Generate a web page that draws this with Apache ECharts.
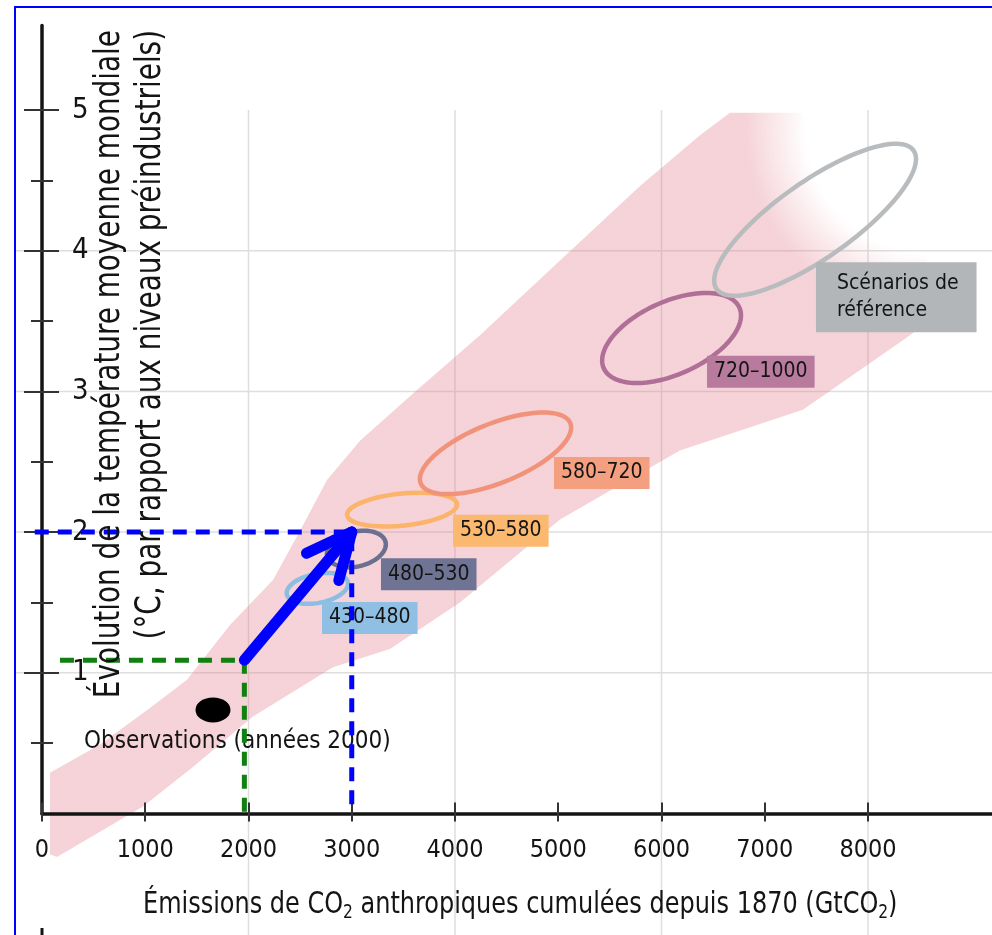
<!DOCTYPE html>
<html>
<head>
<meta charset="utf-8">
<script src="https://cdn.jsdelivr.net/npm/echarts@6/dist/echarts.min.js"></script>
<style>
html,body{margin:0;padding:0;background:#ffffff;}
#chart{width:992px;height:935px;}
</style>
</head>
<body>
<div id="chart"></div>
<script>
// ---------------- data ----------------
const xTicks = [0, 1000, 2000, 3000, 4000, 5000, 6000, 7000, 8000];
const yTicks = [1, 2, 3, 4, 5];
const yMinorTicks = [0.5, 1.5, 2.5, 3.5, 4.5];
const gridX = [2000, 4000, 6000, 8000];
const gridY = [1, 2, 3, 4];

// range of model results (upper edge left->right, lower edge right->left)
const bandUpper = [[77, 0.29], [562, 0.49], [1046, 0.75], [1404, 0.95], [1821, 1.34], [2237, 1.66],
  [2499, 2.01], [2760, 2.37], [3080, 2.65], [3632, 3.01], [4242, 3.40], [5017, 3.93], [5792, 4.46],
  [6373, 4.82], [6663, 4.98], [7341, 4.98], [8310, 4.36], [8746, 3.65]];
const bandLower = [[8649, 3.54], [8407, 3.40], [7370, 2.87], [6179, 2.58], [5017, 2.09], [4048, 1.50],
  [3370, 1.17], [2818, 1.04], [2044, 0.69], [1462, 0.33], [978, 0.05], [145, -0.31], [77, -0.29]];

// scenario ellipses (CO2-eq concentration categories, ppm)
const scenarioNames = ['430–480', '480–530', '530–580', '580–720', '720–1000', 'Scénarios de\nréférence'];
const emissionsLow  = [2370, 2760, 2955, 3660, 5425, 6510];
const emissionsHigh = [2965, 3330, 4020, 5125, 6770, 8465];
const warmingLow    = [1.49, 1.75, 2.04, 2.27, 3.06, 3.68];
const warmingHigh   = [1.71, 2.01, 2.28, 2.85, 3.70, 4.76];
const tilt          = [0.30, 0.25, 0.30, 0.63, 0.50, 0.80];
const labelAnchors  = [[2712, 1.39], [3283, 1.70], [3981, 2.01], [4959, 2.42], [6441, 3.14], [7496, 3.67]];

const observation = [1656, 0.736];
const observationText = 'Observations (années 2000)';
const observationAnchor = [407, 0.51];

// dashed guides: [startX, cornerX, cornerY]
const guideStartX = [174, -70];
const guideCorners = [[1960, 1.09], [3000, 2.0]];

// ---------------- styles ----------------
const FONT = "'DejaVu Sans Condensed', 'Liberation Sans Narrow', sans-serif";
const ellipseColors = ['#8dbde3', '#6c7090', '#fbb469', '#f0937a', '#b06f96', '#b9bcbe'];
const labelColors   = ['#8fbfe3', '#707494', '#fbb86f', '#f4a080', '#b87b9d', '#b3b6b8'];
const guideColors   = ['#118011', '#0000ff'];
const TXT = '#141414';
const X_MAX = 9201;

const chart = echarts.init(document.getElementById('chart'), null, {renderer: 'canvas'});

function yAx(ticks, inside, len, main) {
  return {
    type: 'value', min: 0, max: 5.6, position: 'left', gridIndex: 0,
    axisLine: {show: !!main, lineStyle: {color: TXT, width: 3.5}},
    axisTick: {show: true, inside: inside, length: len, customValues: ticks,
               lineStyle: {color: '#333', width: 2}},
    axisLabel: main ? {show: true, inside: true, margin: 30, customValues: yTicks,
               fontSize: 29, fontFamily: FONT, color: TXT, padding: [11, 0, 0, 0]} : {show: false},
    splitLine: {show: false}
  };
}

const option = {
  animation: false,
  backgroundColor: '#ffffff',
  grid: {left: 42, right: 0, top: 25.6, bottom: 121.5, containLabel: false, outerBoundsMode: 'none'},
  xAxis: [
    {type: 'value', min: 0, max: X_MAX, position: 'bottom',
     axisLine: {show: true, lineStyle: {color: TXT, width: 3.5}},
     axisTick: {show: true, inside: false, length: 8, customValues: xTicks, lineStyle: {color: '#333', width: 2}},
     axisLabel: {show: true, customValues: xTicks, margin: 24, fontSize: 25, fontFamily: FONT, color: TXT,
                 formatter: function (v) { return String(v); }},
     splitLine: {show: false}},
    {type: 'value', min: 0, max: X_MAX, position: 'bottom',
     axisLine: {show: false},
     axisTick: {show: true, inside: true, length: 11, customValues: xTicks, lineStyle: {color: '#333', width: 2}},
     axisLabel: {show: false}, splitLine: {show: false}}
  ],
  yAxis: [
    yAx(yTicks, false, 18, true),
    yAx(yTicks, true, 17, false),
    yAx(yMinorTicks, false, 11, false),
    yAx(yMinorTicks, true, 11, false)
  ],
  graphic: [
    {type: 'rect', z: 100, silent: true, shape: {x: 15, y: 7, width: 1100, height: 1100},
     style: {fill: 'none', stroke: '#0000ff', lineWidth: 2}},
    {type: 'line', z: 100, silent: true, shape: {x1: 42, y1: 928, x2: 42, y2: 940},
     style: {stroke: TXT, lineWidth: 3}},
    {type: 'text', z: 50, x: 130, y: 30, rotation: Math.PI / 2, scaleX: 0.86,
     style: {text: 'Évolution de la température moyenne mondiale\n(°C, par rapport aux niveaux préindustriels)',
             font: '36px ' + FONT, fill: TXT, align: 'right', verticalAlign: 'middle', lineHeight: 41}},
    {type: 'text', z: 50, x: 143, y: 905, scaleX: 0.86,
     style: {text: 'Émissions de CO{s|2} anthropiques cumulées depuis 1870 (GtCO{s|2})',
             font: '31px ' + FONT, fill: TXT, align: 'left', verticalAlign: 'middle',
             rich: {s: {fontSize: 20, fontFamily: FONT, fill: TXT, verticalAlign: 'bottom', padding: [16, 0, 0, 0]}}}}
  ],
  series: [
    { // vertical grid lines
      type: 'custom', z: -3, silent: true, clip: false,
      data: gridX.map(v => [v, 0]),
      renderItem: function (params, api) {
        const p1 = api.coord([api.value(0), 5]);
        const p2 = api.coord([api.value(0), -1]);
        return {type: 'line', shape: {x1: p1[0], y1: p1[1], x2: p2[0], y2: p2[1]},
                style: {stroke: '#dedede', lineWidth: 1.5}};
      }
    },
    { // horizontal grid lines
      type: 'custom', z: -3, silent: true, clip: false,
      data: gridY.map(v => [0, v]),
      renderItem: function (params, api) {
        const p1 = api.coord([-262, api.value(1)]);
        const p2 = api.coord([10000, api.value(1)]);
        return {type: 'line', shape: {x1: p1[0], y1: p1[1], x2: p2[0], y2: p2[1]},
                style: {stroke: '#dedede', lineWidth: 1.5}};
      }
    },
    { // model range band, fading out towards the top-right corner
      type: 'custom', z: -1, silent: true, clip: false,
      data: [[0, 0]],
      renderItem: function (params, api) {
        const pts = bandUpper.concat(bandLower).map(p => api.coord(p));
        const c = api.coord([8600, 4.86]);
        return {type: 'polygon', shape: {points: pts},
                style: {fill: new echarts.graphic.RadialGradient(c[0], c[1], 185, [
                  {offset: 0, color: 'rgba(225,120,135,0)'},
                  {offset: 0.67, color: 'rgba(225,120,135,0)'},
                  {offset: 1, color: 'rgba(225,120,135,0.33)'}], true), stroke: 'none'}};
      }
    },
    { // scenario ellipses
      type: 'custom', z: 2, silent: true, clip: false,
      data: scenarioNames.map((n, i) => [emissionsLow[i], emissionsHigh[i], warmingLow[i], warmingHigh[i], tilt[i]]),
      renderItem: function (params, api) {
        const x0 = api.value(0), x1 = api.value(1), y0 = api.value(2), y1 = api.value(3), r = api.value(4);
        const cx = (x0 + x1) / 2, cy = (y0 + y1) / 2, sx = (x1 - x0) / 2, sy = (y1 - y0) / 2;
        const phi = Math.acos(r);
        const pts = [];
        for (let k = 0; k < 120; k++) {
          const t = k / 120 * 2 * Math.PI;
          pts.push(api.coord([cx + sx * Math.cos(t), cy + sy * Math.cos(t - phi)]));
        }
        return {type: 'polygon', shape: {points: pts},
                style: {fill: 'none', stroke: ellipseColors[params.dataIndex], lineWidth: 4.5}};
      }
    },
    { // observations
      type: 'scatter', z: 3, silent: true,
      symbol: 'circle', symbolSize: [35, 25],
      itemStyle: {color: '#000000', opacity: 1},
      emphasis: {disabled: true},
      data: [observation]
    },
    { // labels
      type: 'scatter', z: 4, silent: true, symbolSize: 0,
      itemStyle: {opacity: 1},
      emphasis: {disabled: true},
      data: scenarioNames.map((n, i) => ({
        value: labelAnchors[i], name: n,
        label: {show: true, position: 'right', distance: 0, formatter: n, opacity: 1,
                fontSize: 21, fontFamily: FONT, color: TXT, backgroundColor: labelColors[i],
                lineHeight: i === 5 ? 27 : 24,
                padding: i === 5 ? [8, 18, 8, 21] : [4, 7, 4, 7]}
      })).concat([{
        value: observationAnchor, name: observationText,
        label: {show: true, position: 'right', distance: 0, formatter: observationText, opacity: 1,
                fontSize: 24, fontFamily: FONT, color: TXT}
      }])
    },
    { // dashed guides
      type: 'custom', z: 5, silent: true, clip: false,
      data: guideCorners.map((c, i) => [guideStartX[i], c[0], c[1]]),
      renderItem: function (params, api) {
        const pts = [api.coord([api.value(0), api.value(2)]),
                     api.coord([api.value(1), api.value(2)]),
                     api.coord([api.value(1), 0])];
        return {type: 'polyline', shape: {points: pts},
                style: {fill: 'none', stroke: guideColors[params.dataIndex], lineWidth: 5, lineDash: [14, 9]}};
      }
    },
    { // arrow
      type: 'custom', z: 6, silent: true, clip: false,
      data: [[guideCorners[0][0], guideCorners[0][1], guideCorners[1][0], guideCorners[1][1]]],
      renderItem: function (params, api) {
        const p0 = api.coord([api.value(0), api.value(1)]);
        const p1 = api.coord([api.value(2), api.value(3)]);
        const ang = Math.atan2(p0[1] - p1[1], p0[0] - p1[0]);
        const L = 50, w = 25 * Math.PI / 180;
        const st = {stroke: '#0000ff', lineWidth: 11, lineCap: 'round'};
        return {type: 'group', children: [
          {type: 'line', shape: {x1: p0[0], y1: p0[1], x2: p1[0], y2: p1[1]}, style: st},
          {type: 'line', shape: {x1: p1[0], y1: p1[1], x2: p1[0] + L * Math.cos(ang + w), y2: p1[1] + L * Math.sin(ang + w)}, style: st},
          {type: 'line', shape: {x1: p1[0], y1: p1[1], x2: p1[0] + L * Math.cos(ang - w), y2: p1[1] + L * Math.sin(ang - w)}, style: st}
        ]};
      }
    }
  ]
};
chart.setOption(option);
</script>
</body>
</html>
